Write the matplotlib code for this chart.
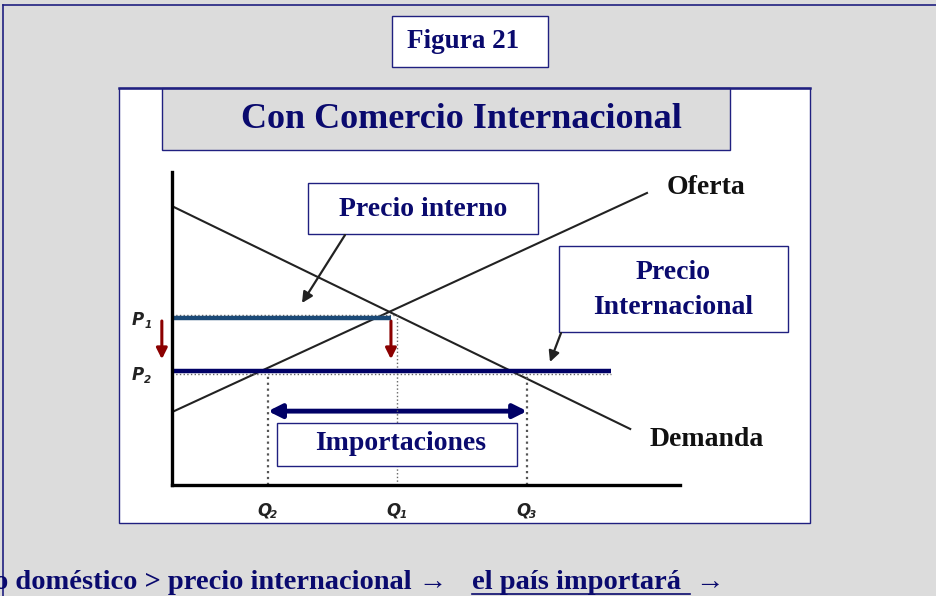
import matplotlib.pyplot as plt
from matplotlib.patches import Rectangle, FancyArrowPatch

# datos del diagrama (cantidad 0-10, precio 0-10)
oferta_q = [0.0, 9.35]
oferta_p = [2.33, 9.33]
demanda_q = [0.0, 9.02]
demanda_p = [8.91, 1.79]
p1 = 5.34
p2 = 3.64
q1 = 4.43
q2 = 1.89
q3 = 6.99
q_fin_p1 = 4.31
q_fin_p2 = 8.64
etiquetas_q = ["2", "1", "3"]

navy = "#0a0a6e"
borde = "#202080"
gris = "#dcdcdc"
serif = "Liberation Serif"

fig = plt.figure(figsize=(9.36, 5.96), dpi=100)
fig.patch.set_facecolor(gris)

# capa de fondo en pixeles
bg = fig.add_axes([0, 0, 1, 1], zorder=0)
bg.set_xlim(0, 936)
bg.set_ylim(596, 0)
bg.axis("off")
bg.plot([3, 936], [5, 5], color=borde, lw=1.2)
bg.plot([3, 3], [5, 596], color=borde, lw=1.2)
bg.add_patch(Rectangle((119, 88), 691, 435, facecolor="white", edgecolor=borde, lw=1))
bg.plot([119, 810], [88, 88], color=borde, lw=1.8)
bg.add_patch(Rectangle((392, 16), 156, 51, facecolor="white", edgecolor=borde, lw=1))
bg.text(463, 42, "Figura 21", ha="center", va="center", family=serif,
        weight="bold", fontsize=19.5, color=navy)
bg.add_patch(Rectangle((162, 88), 568, 62, facecolor=gris, edgecolor=borde, lw=1))
bg.text(461, 120, "Con Comercio Internacional", ha="center", va="center", family=serif,
        weight="bold", fontsize=26, color=navy)

# diagrama
ax = fig.add_axes([172 / 936, (596 - 485) / 596, 508 / 936, 313 / 596], zorder=1)
ax.set_xlim(0, 10)
ax.set_ylim(0, 10)
ax.patch.set_alpha(0)
for s in ["top", "right"]:
    ax.spines[s].set_visible(False)
for s in ["left", "bottom"]:
    ax.spines[s].set_linewidth(2.4)
ax.set_xticks([])
ax.set_yticks([])

ax.plot(oferta_q, oferta_p, color="#222222", lw=1.5)
ax.plot(demanda_q, demanda_p, color="#222222", lw=1.5)

# lineas punteadas de referencia
ax.plot([0, q1], [p1 + 0.09, p1 + 0.09], color="#666666", lw=1, ls=":")
ax.plot([0, q_fin_p2], [p2 - 0.09, p2 - 0.09], color="#666666", lw=1, ls=":")
ax.plot([q1, q1], [0, p1 + 0.09], color="#666666", lw=1, ls=":")
ax.plot([q2, q2], [0, p2], color="#555555", lw=1.6, ls=":")
ax.plot([q3, q3], [0, p2], color="#555555", lw=1.6, ls=":")

ax.plot([0, q_fin_p1], [p1, p1], color="#1b4a78", lw=3.2, solid_capstyle="butt")
ax.plot([0, q_fin_p2], [p2, p2], color="#000066", lw=3.2, solid_capstyle="butt")

# flechas rojas de caida del precio
for xq in [-0.2, q_fin_p1]:
    ax.add_patch(FancyArrowPatch((xq, p1 - 0.1), (xq, p2 + 0.38), arrowstyle="-|>",
                                 mutation_scale=16, color="#8b0000", lw=2.2,
                                 clip_on=False, shrinkA=0, shrinkB=0))

# importaciones
ax.add_patch(FancyArrowPatch((q2, 2.36), (q3, 2.36), arrowstyle="<|-|>",
                             mutation_scale=20, color="#000066", lw=3.5,
                             shrinkA=0, shrinkB=0))

# capa superior: cajas y etiquetas
top = fig.add_axes([0, 0, 1, 1], zorder=2)
top.set_xlim(0, 936)
top.set_ylim(596, 0)
top.axis("off")
top.patch.set_alpha(0)

top.add_patch(Rectangle((308, 183), 230, 51, facecolor="white", edgecolor=borde, lw=1))
top.text(423, 209, "Precio interno", ha="center", va="center", family=serif,
         weight="bold", fontsize=20, color=navy)
top.annotate("", xy=(302, 303), xytext=(345, 235),
             arrowprops=dict(arrowstyle="-|>", color="#222222", lw=1.6, mutation_scale=16,
                             shrinkA=0, shrinkB=0))

top.add_patch(Rectangle((559, 246), 229, 86, facecolor="white", edgecolor=borde, lw=1))
top.text(673, 290, "Precio\nInternacional", ha="center", va="center", family=serif,
         weight="bold", fontsize=20, color=navy, linespacing=1.55)
top.annotate("", xy=(550, 362), xytext=(561, 333),
             arrowprops=dict(arrowstyle="-|>", color="#222222", lw=1.6, mutation_scale=16,
                             shrinkA=0, shrinkB=0))

top.add_patch(Rectangle((277, 423), 240, 43, facecolor="white", edgecolor=borde, lw=1))
top.text(401, 444, "Importaciones", ha="center", va="center", family=serif,
         weight="bold", fontsize=20, color=navy)

top.text(706, 188, "Oferta", ha="center", va="center", family=serif,
         weight="bold", fontsize=20, color="#111111")
top.text(707, 439, "Demanda", ha="center", va="center", family=serif,
         weight="bold", fontsize=20, color="#111111")

# etiquetas de precio y cantidad
def etiqueta(x, y, letra, sub):
    top.text(x, y, letra, ha="center", va="center", family="DejaVu Sans",
             weight="bold", style="italic", fontsize=12, color="#222222")
    top.text(x + 10, y + 5, sub, ha="center", va="center", family="DejaVu Sans",
             weight="bold", style="italic", fontsize=7.5, color="#222222")

etiqueta(138, 320, "P", "1")
etiqueta(138, 375, "P", "2")
for xq, s in zip([q2, q1, q3], etiquetas_q):
    etiqueta(172 + xq * 50.8 - 4, 510, "Q", s)

# texto inferior
top.text(-6, 589, "o doméstico > precio internacional →", ha="left", va="baseline",
         family=serif, weight="bold", fontsize=20.5, color=navy)
top.text(472, 589, "el país importará", ha="left", va="baseline",
         family=serif, weight="bold", fontsize=20.5, color=navy)
top.plot([472, 690], [594, 594], color=navy, lw=1.2)
top.text(695, 589, "→", ha="left", va="baseline",
         family=serif, weight="bold", fontsize=20.5, color=navy)

fig.savefig("out.png", dpi=100, facecolor=gris)
